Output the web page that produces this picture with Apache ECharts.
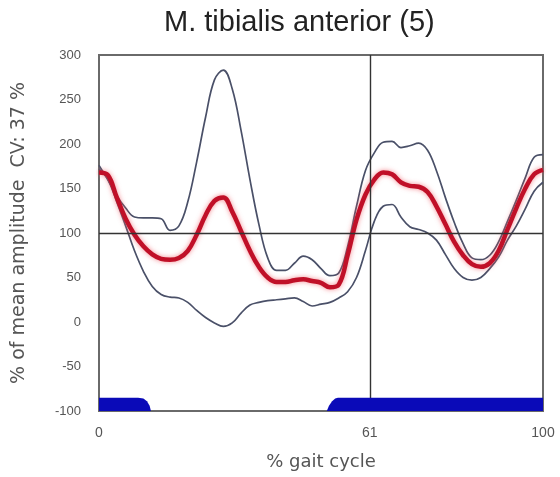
<!DOCTYPE html>
<html><head><meta charset="utf-8">
<script src="https://cdn.jsdelivr.net/npm/echarts@6/dist/echarts.min.js"></script>
<style>html,body{margin:0;padding:0;background:#fff}#c{width:560px;height:477px}</style>
</head><body><div id="c"></div>
<script>
const gait = [0,2,4,6,8,10,12,14,16,18,20,22,24,26,28,30,32,34,36,38,40,42,44,46,48,50,52,54,56,58,60,62,64,66,68,70,72,74,76,78,80,82,84,86,88,90,92,94,96,98,100];
const upperSD = [176,160,142,128,118,117,117,116,103,108,135,180,230,272,283,262,215,160,110,72,58,58,66,74,70,60,52,55,85,130,170,190,202,203,196,198,201,193,170,140,112,88,72,70,75,90,113,137,162,185,188];
const meanAmp = [168,165,140,116,98,85,76,71,70,72,80,98,120,136,140,124,102,80,62,50,45,45,47,48,46,44,39,42,75,115,143,160,168,166,157,153,152,146,130,110,90,75,65,62,66,80,104,128,150,166,171];
const lowerSD = [172,160,135,108,80,57,40,31,28,27,22,13,5,-1,-5,-1,10,19,22,24,25,26,27,23,18,20,22,27,34,50,80,113,130,132,118,107,104,100,92,76,60,50,47,50,60,73,92,108,127,147,157];
const stance1X = [0,8.8,10,10.8,11.4,11.7];
const stance1Y = [-85,-85,-86,-89,-94,-100];
const stance2X = [51.3,51.8,52.5,53.2,53.8,100];
const stance2Y = [-100,-94,-89,-86,-85,-85];
const xTicks = [0,61,100];
const yMin = -100, yMax = 300, yStep = 50;
const toeOff = 61;
const refLevel = 100;

const pairs = (xs, ys) => xs.map((x,i)=>[x, ys[i]]);
const chart = echarts.init(document.getElementById('c'), null, {renderer:'canvas'});
const edge = '#4a5068';
const ff = 'Liberation Sans, Arial, sans-serif';
const fw = 'DejaVu Sans, sans-serif';
chart.setOption({
  animation:false,
  backgroundColor:'#fff',
  title:{text:'M. tibialis anterior (5)', left:159, top:3,
    textStyle:{fontFamily:ff, fontSize:29, fontWeight:'normal', color:'#222'}},
  grid:{left:99, right:17, top:55, bottom:66, show:true, borderColor:'#6a6a6a', borderWidth:2},
  xAxis:{type:'value', min:0, max:100,
    name:'% gait cycle', nameLocation:'middle', nameGap:42,
    nameTextStyle:{fontFamily:fw, fontSize:18, color:'#555'},
    axisLine:{show:false}, axisTick:{show:false}, splitLine:{show:false},
    axisLabel:{customValues:xTicks, fontFamily:ff, fontSize:14, color:'#555', margin:15}},
  yAxis:{type:'value', min:yMin, max:yMax, interval:yStep,
    name:'% of mean amplitude  CV: 37 %', nameLocation:'middle', nameGap:70, nameRotate:90,
    nameTextStyle:{fontFamily:fw, fontSize:19, color:'#555'},
    axisLine:{show:false}, axisTick:{show:false}, splitLine:{show:false},
    axisLabel:{fontFamily:ff, fontSize:13, color:'#555', margin:18}},
  series:[
    {type:'line', data:pairs(stance1X, stance1Y), showSymbol:false, smooth:false,
      lineStyle:{width:0}, areaStyle:{color:'#0a0ab8', origin:'start', opacity:1}, z:5},
    {type:'line', data:pairs(stance2X, stance2Y), showSymbol:false, smooth:false,
      lineStyle:{width:0}, areaStyle:{color:'#0a0ab8', origin:'start', opacity:1}, z:5},
    {type:'line', data:pairs(gait, upperSD), showSymbol:false, smooth:0.4,
      lineStyle:{color:edge, width:1.7}, z:3,
      markLine:{silent:true, symbol:'none', label:{show:false},
        lineStyle:{color:'#333', width:1.4, type:'solid'},
        data:[{xAxis:toeOff},{yAxis:refLevel}]}},
    {type:'line', data:pairs(gait, lowerSD), showSymbol:false, smooth:0.4,
      lineStyle:{color:edge, width:1.7}, z:3},
    {type:'line', data:pairs(gait, meanAmp), showSymbol:false, smooth:0.4,
      lineStyle:{color:'#c01028', width:4.5, shadowColor:'rgba(240,90,100,0.7)', shadowBlur:5}, z:4}
  ]
});
</script></body></html>
